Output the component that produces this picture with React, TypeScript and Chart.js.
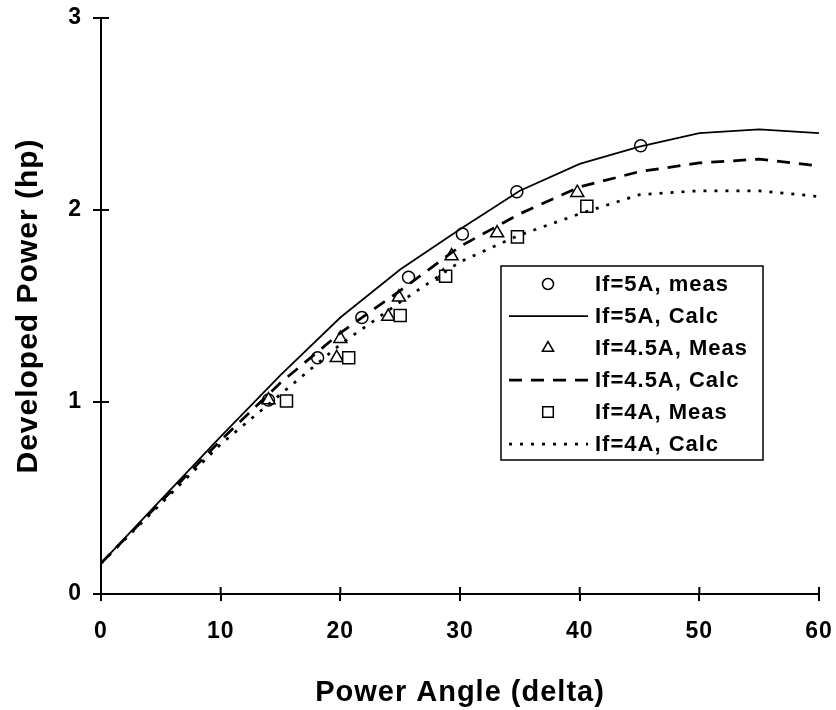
import React, { useEffect, useRef } from 'react';
import { Chart, registerables } from 'chart.js';

Chart.register(...registerables);

// ---- data ----
const angleTicks = [0, 10, 20, 30, 40, 50, 60];
const powerTicks = [0, 1, 2, 3];

const calcAngles = [0, 5, 10, 15, 20, 25, 30, 35, 40, 45, 50, 55, 60];
const calcIf5A = [0.16, 0.49, 0.82, 1.14, 1.44, 1.69, 1.9, 2.1, 2.24, 2.33, 2.4, 2.42, 2.4];
const calcIf45A = [0.16, 0.48, 0.8, 1.1, 1.36, 1.58, 1.81, 1.98, 2.12, 2.2, 2.245, 2.265, 2.23];
const calcIf4A = [0.16, 0.47, 0.78, 1.04, 1.3, 1.52, 1.73, 1.87, 1.98, 2.08, 2.1, 2.1, 2.07];

const measIf5AAngle = [14, 18.1, 21.8, 25.7, 30.2, 34.75, 45.1];
const measIf5APower = [1.01, 1.23, 1.44, 1.65, 1.875, 2.095, 2.335];
const measIf45AAngle = [14, 19.7, 20, 24, 24.9, 28.6, 29.3, 33.1, 39.8];
const measIf45APower = [1.01, 1.23, 1.33, 1.445, 1.545, 1.655, 1.76, 1.88, 2.09];
const measIf4AAngle = [15.5, 20.7, 25, 28.8, 34.8, 40.6];
const measIf4APower = [1.005, 1.23, 1.45, 1.655, 1.86, 2.02];

const seriesLabels = [
  'If=5A, meas',
  'If=5A, Calc',
  'If=4.5A, Meas',
  'If=4.5A, Calc',
  'If=4A, Meas',
  'If=4A, Calc',
];

const FONT = "'Liberation Sans', Arial, Helvetica, sans-serif";

function pts(xs: number[], ys: number[]) {
  return xs.map((x, i) => ({ x, y: ys[i] }));
}

function drawMarker(ctx: CanvasRenderingContext2D, style: string, x: number, y: number, r: number) {
  ctx.beginPath();
  if (style === 'circle') {
    ctx.arc(x, y, r, 0, Math.PI * 2);
  } else if (style === 'triangle') {
    for (let k = 0; k < 3; k++) {
      const a = -Math.PI / 2 + (k * 2 * Math.PI) / 3;
      const px = x + Math.cos(a) * r;
      const py = y + Math.sin(a) * r;
      if (k === 0) ctx.moveTo(px, py);
      else ctx.lineTo(px, py);
    }
    ctx.closePath();
  } else {
    const s = r * Math.SQRT1_2;
    ctx.rect(x - s, y - s, 2 * s, 2 * s);
  }
  ctx.fillStyle = '#fff';
  ctx.fill();
  ctx.stroke();
}

const spacingPlugin = {
  id: 'spacing',
  beforeDraw(chart: any) {
    (chart.ctx as any).letterSpacing = '1px';
  },
};

const crossTicks = {
  id: 'crossTicks',
  afterDraw(chart: any) {
    const { ctx, chartArea, scales } = chart;
    const xs = scales.x;
    const ys = scales.y;
    ctx.save();
    ctx.strokeStyle = '#000';
    ctx.lineWidth = 2;
    ctx.beginPath();
    xs.ticks.forEach((t: any) => {
      const px = xs.getPixelForValue(t.value);
      ctx.moveTo(px, chartArea.bottom);
      ctx.lineTo(px, chartArea.bottom - 7);
    });
    ys.ticks.forEach((t: any) => {
      const py = ys.getPixelForValue(t.value);
      ctx.moveTo(chartArea.left, py);
      ctx.lineTo(chartArea.left + 8, py);
    });
    ctx.stroke();
    ctx.restore();
  },
};

const legendBox = {
  id: 'legendBox',
  afterDatasetsDraw(chart: any) {
    const { ctx, chartArea } = chart;
    const left = chartArea.left + 400;
    const top = chartArea.top + 248;
    const w = 262;
    const h = 194;
    ctx.save();
    ctx.fillStyle = '#fff';
    ctx.fillRect(left, top, w, h);
    ctx.strokeStyle = '#000';
    ctx.lineWidth = 1.5;
    ctx.strokeRect(left, top, w, h);
    chart.data.datasets.forEach((ds: any, i: number) => {
      const cy = top + 18 + i * 32;
      ctx.strokeStyle = '#000';
      if (ds.showLine === false) {
        ctx.setLineDash([]);
        ctx.lineWidth = ds.pointBorderWidth;
        drawMarker(ctx, ds.pointStyle, left + 47, cy, ds.pointStyle === 'circle' ? 5.5 : ds.pointRadius - 1);
      } else {
        ctx.setLineDash(ds.borderDash || []);
        ctx.lineWidth = ds.borderWidth;
        ctx.beginPath();
        ctx.moveTo(left + 8, cy);
        ctx.lineTo(left + 87, cy);
        ctx.stroke();
        ctx.setLineDash([]);
      }
      ctx.fillStyle = '#000';
      ctx.font = `bold 22px ${FONT}`;
      ctx.textAlign = 'left';
      ctx.textBaseline = 'middle';
      ctx.fillText(ds.label, left + 94, cy + 1);
    });
    ctx.restore();
  },
};

export default function App() {
  const ref = useRef<HTMLCanvasElement | null>(null);

  useEffect(() => {
    if (!ref.current) return;
    const markerBase = {
      showLine: false,
      borderColor: '#000',
      backgroundColor: '#fff',
      pointBackgroundColor: '#fff',
      pointBorderColor: '#000',
      pointBorderWidth: 1.5,
    };
    const lineBase = {
      showLine: true,
      borderColor: '#000',
      backgroundColor: '#000',
      pointRadius: 0,
      tension: 0,
      fill: false,
    };
    const chart = new Chart(ref.current, {
      type: 'scatter',
      data: {
        datasets: [
          { ...markerBase, label: seriesLabels[0], data: pts(measIf5AAngle, measIf5APower), pointStyle: 'circle', pointRadius: 6, order: 6 },
          { ...lineBase, label: seriesLabels[1], data: pts(calcAngles, calcIf5A), borderWidth: 1.75, borderDash: [], order: 5 },
          { ...markerBase, label: seriesLabels[2], data: pts(measIf45AAngle, measIf45APower), pointStyle: 'triangle', pointRadius: 7.5, order: 4 },
          { ...lineBase, label: seriesLabels[3], data: pts(calcAngles, calcIf45A), borderWidth: 2.75, borderDash: [13, 9], order: 3 },
          { ...markerBase, label: seriesLabels[4], data: pts(measIf4AAngle, measIf4APower), pointStyle: 'rect', pointRadius: 8.5, order: 2 },
          { ...lineBase, label: seriesLabels[5], data: pts(calcAngles, calcIf4A), borderWidth: 2.75, borderDash: [3, 8], order: 1 },
        ] as any,
      },
      options: {
        animation: false,
        responsive: true,
        maintainAspectRatio: false,
        layout: { padding: { top: 18, right: 17, left: 0, bottom: 0 } },
        plugins: {
          legend: { display: false },
          tooltip: { enabled: false },
        },
        scales: {
          x: {
            type: 'linear',
            min: 0,
            max: 60,
            afterBuildTicks: (s: any) => {
              s.ticks = angleTicks.map((v) => ({ value: v }));
            },
            afterFit: (s: any) => {
              s.height = 116;
              s.paddingLeft = 0;
              s.paddingRight = 0;
            },
            grid: { drawOnChartArea: false, drawTicks: true, tickLength: 7, color: '#000', lineWidth: 2 },
            border: { display: true, color: '#000', width: 2 },
            ticks: {
              color: '#000',
              font: { family: FONT, size: 23, weight: 'bold' },
              padding: 17,
              maxRotation: 0,
              autoSkip: false,
            },
            title: {
              display: true,
              text: 'Power Angle (delta)',
              color: '#000',
              font: { family: FONT, size: 29, weight: 'bold' },
              padding: { top: 0, bottom: 0 },
            },
          },
          y: {
            type: 'linear',
            min: 0,
            max: 3,
            afterBuildTicks: (s: any) => {
              s.ticks = powerTicks.map((v) => ({ value: v }));
            },
            afterFit: (s: any) => {
              s.width = 101;
              s.paddingTop = 0;
              s.paddingBottom = 0;
            },
            grid: { drawOnChartArea: false, drawTicks: true, tickLength: 8, color: '#000', lineWidth: 2 },
            border: { display: true, color: '#000', width: 2 },
            ticks: {
              color: '#000',
              font: { family: FONT, size: 23, weight: 'bold' },
              padding: 11,
              autoSkip: false,
            },
            title: {
              display: true,
              text: 'Developed Power (hp)',
              color: '#000',
              font: { family: FONT, size: 30, weight: 'bold' },
              padding: { top: 11, bottom: 0 },
            },
          },
        },
      } as any,
      plugins: [spacingPlugin, crossTicks, legendBox],
    });
    return () => chart.destroy();
  }, []);

  return (
    <div style={{ position: 'fixed', left: 0, top: 0, width: 836, height: 710, background: '#fff' }}>
      <canvas ref={ref} />
    </div>
  );
}
